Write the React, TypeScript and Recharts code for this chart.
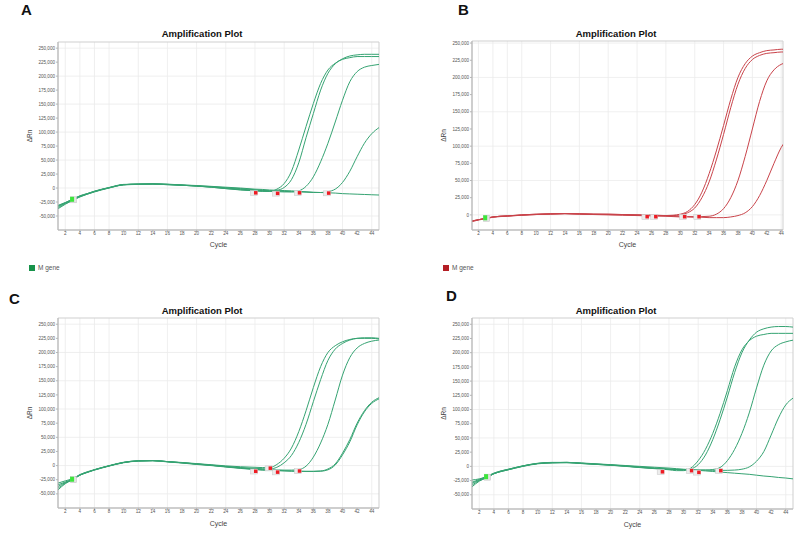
import React from "react";
import { ComposedChart, Line, Scatter, XAxis, YAxis, CartesianGrid, ReferenceArea, Label } from "recharts";

// cycles sampled (denser where the curves rise)
const cycles = [1, 2, 3, 4, 5, 6, 8, 10, 12, 14, 16, 18, 20, 22, 24, 26, 28, 29, 30, 31, 32, 33, 34, 35, 36, 37, 38, 39, 40, 41, 42, 43, 44, 45];
const cycleTicks = [2, 4, 6, 8, 10, 12, 14, 16, 18, 20, 22, 24, 26, 28, 30, 32, 34, 36, 38, 40, 42, 44];
const rnTicksFull = [-50, -25, 0, 25, 50, 75, 100, 125, 150, 175, 200, 225, 250];
const rnTicksPos = [0, 25, 50, 75, 100, 125, 150, 175, 200, 225, 250];

// ΔRn values in thousands
const curvesA = [
  [-31, -26, -20, -14, -10, -5.5, 1, 6.5, 7, 7.5, 6.5, 5, 3.5, 1.5, -1, -3, -5, -6, -6, -2, 8, 30, 68, 110, 151, 187, 211, 223, 230, 233, 235, 235, 235, 235],
  [-33, -27, -21, -15, -10.5, -6, 0.5, 6, 7, 7.5, 6.5, 5.5, 4, 2.5, 0.5, -1, -3, -4, -5, -4, 1, 15, 45, 90, 133, 175, 205, 222, 231, 236, 238, 239, 239, 239],
  [-35, -28, -22, -15.5, -11, -6.5, 0.5, 6, 7, 7, 6, 5, 3.5, 1.5, -1, -3.5, -5, -5.5, -6, -6.5, -7, -7, -5, 3, 20, 47, 80, 118, 157, 190, 208, 216, 219, 221],
  [-37, -29, -22, -16, -11, -7, 0, 5.5, 6.5, 7, 6, 5, 3.5, 2, 0, -2, -4, -4.5, -5, -5.5, -6, -6.5, -7, -7.5, -8, -8, -6.5, -2, 10, 30, 56, 80, 97, 108],
  [-32, -26, -20, -14, -10, -6, 0.5, 6, 7, 7.5, 7, 5.5, 4.5, 3, 1.5, 0, -2, -2.5, -3.5, -4, -4.5, -5, -6, -6.5, -7.5, -8, -8.5, -9, -10, -10.5, -11, -11.5, -12, -12.5],
];
const curvesB = [
  [-9, -7, -5, -3, -2, -1.5, 0, 1, 1.5, 2, 1.5, 1, 1, 0.5, 0, -0.5, -1, -0.5, 1, 5, 15, 33, 60, 93, 130, 168, 200, 220, 231, 236, 239, 240, 241, 241],
  [-9, -7, -5, -3, -2, -1.5, 0, 1, 1.5, 2, 1.5, 1, 1, 0.5, 0, -0.5, -1, -1, 0, 3, 10, 25, 48, 80, 117, 156, 190, 213, 226, 232, 235, 236, 237, 237],
  [-9.5, -7, -5, -3, -2, -1.5, -0.5, 0.5, 1.5, 2, 1.5, 1, 0.5, 0, -0.5, -1, -1.5, -2, -2, -2.5, -2.5, -2.5, -2, 1, 9, 25, 50, 85, 125, 165, 195, 211, 219, 222],
  [-10, -7.5, -5.5, -3.5, -2.5, -2, -0.5, 0.5, 1, 1.5, 1, 0.5, 0, -0.5, -1, -1.5, -2, -2.5, -3, -3, -3.5, -3.5, -4, -4, -4, -3, -1, 3, 12, 28, 50, 75, 98, 112],
];
const curvesC = [
  [-31, -27, -23, -16, -11, -7, 0, 6, 8.5, 9, 7, 5.5, 3.5, 1.5, -0.5, -2, -3, -3.5, -3.5, 2, 13, 31, 60, 97, 138, 175, 200, 212, 219, 223, 225, 225, 225, 224],
  [-34, -29, -24, -17, -12, -7.5, -0.5, 5.5, 8.5, 9, 7, 5, 3, 1, -1.5, -3.5, -5, -5.5, -6, -3, 5, 18, 41, 73, 113, 152, 186, 206, 216, 222, 225, 226, 226, 225],
  [-37, -30, -25, -17, -12, -7.5, -0.5, 5.5, 8, 8.5, 7, 5, 3, 0.5, -2, -4, -6, -6.5, -7, -7.5, -8, -8, -7, -1, 15, 40, 73, 116, 160, 191, 208, 216, 220, 222],
  [-43, -32, -25, -17, -12, -8, -1, 5, 8, 8.5, 6.5, 4.5, 2, 0, -2.5, -5, -7, -8, -8.5, -9, -9.5, -10, -10, -10, -10, -9.5, -6, 3, 22, 46, 75, 97, 112, 120],
  [-40, -31, -24, -16, -11.5, -7.5, -0.5, 5.5, 8.5, 9, 7, 5, 2.5, 0.5, -2, -4.5, -6.5, -7.5, -8, -8.5, -9, -9.5, -10, -10.5, -10.5, -10, -7.5, 1, 19, 42, 72, 95, 110, 118],
];
const curvesD = [
  [-24, -22, -18, -12, -8, -5, 1, 5, 6.5, 6.5, 5, 3.5, 2, 0.5, -2, -4, -6, -7.5, -7.5, -3, 10, 30, 58, 93, 133, 175, 205, 221, 229, 232, 234, 234, 234, 234],
  [-30, -24, -19, -13, -8.5, -5.5, 0.5, 5, 6.5, 7, 5.5, 4, 2.5, 1, -1, -3, -5, -5.5, -6, -4.5, 3, 20, 47, 82, 122, 165, 200, 222, 236, 242, 245, 246, 246, 245],
  [-33, -25, -20, -13, -9, -6, 0.5, 5, 6.5, 7, 5.5, 4, 2.5, 0.5, -1.5, -3.5, -5, -5.5, -6, -6, -6.5, -6.5, -5.5, -2, 10, 30, 58, 94, 138, 178, 203, 214, 219, 222],
  [-36, -26, -20, -13, -9, -6, 0, 4.5, 6, 6.5, 5, 3.5, 2, 0, -2, -3.5, -5, -5.5, -6, -6, -6.5, -6.5, -7, -7, -7, -6.5, -5, -1, 9, 26, 55, 85, 108, 120],
  [-28, -23, -18, -12, -8, -5, 1, 5.5, 7, 7, 6, 4.5, 3, 1.5, 0, -1.5, -3, -4, -5, -6, -7, -8, -9, -10, -11, -12, -13, -14, -15.5, -17, -18, -19.5, -20.5, -22],
];

// Ct / baseline markers
const ctA = [{ cycle: 28, value: -9 }, { cycle: 31, value: -10 }, { cycle: 34, value: -9 }, { cycle: 38, value: -9.5 }];
const ctB = [{ cycle: 25.3, value: -3 }, { cycle: 26.5, value: -3 }, { cycle: 30.5, value: -3 }, { cycle: 32.5, value: -3 }];
const ctC = [{ cycle: 28, value: -10.5 }, { cycle: 30, value: -5 }, { cycle: 31, value: -12 }, { cycle: 34, value: -10 }];
const ctD = [{ cycle: 27, value: -10 }, { cycle: 31, value: -8 }, { cycle: 32, value: -11 }, { cycle: 35, value: -8 }];
const startA = [{ cycle: 3, value: -21 }];
const startB = [{ cycle: 3, value: -5 }];
const startC = [{ cycle: 3, value: -25 }];
const startD = [{ cycle: 3, value: -19 }];

const GREEN = "#35a372";
const RED = "#c9434a";

function buildRows(curves: number[][]) {
  return cycles.map((c, i) => {
    const row: any = { cycle: c };
    curves.forEach((s, j) => (row["s" + j] = s[i]));
    return row;
  });
}

const fmtRn = (v: number) => (v === 0 ? "0" : (v * 1000).toLocaleString("en-US"));

function CtMark(props: any) {
  const { cx, cy } = props;
  return (
    <g>
      <rect x={cx - 4.5} y={cy - 2.5} width={7} height={5} fill="#ececec" stroke="#c8c8c8" strokeWidth={0.5} />
      <rect x={cx - 1} y={cy - 2} width={3.5} height={3.5} fill="#ee1c24" />
    </g>
  );
}

function StartMark(props: any) {
  const { cx, cy } = props;
  return (
    <g>
      <rect x={cx - 2} y={cy - 3} width={6} height={6} fill="#e4e4e4" stroke="#c0c0c0" strokeWidth={0.5} />
      <rect x={cx - 2.5} y={cy - 3} width={4} height={5} fill="#3ce63c" />
    </g>
  );
}

function Panel(p: any) {
  const rows = buildRows(p.curves);
  const tickStyle = { fontSize: 4.6, fill: "#555" };
  return (
    <div style={{ position: "absolute", left: p.left, top: p.top }}>
      <ComposedChart width={p.width} height={p.height} data={rows} margin={p.margin}>
        <CartesianGrid stroke="#ebebeb" strokeWidth={0.8} verticalValues={cycleTicks} horizontalValues={p.yTicks} />
        <ReferenceArea x1={p.xDomain[0]} x2={p.xDomain[1]} y1={p.yDomain[0]} y2={p.yDomain[1]} fill="none" stroke="#cfcfcf" strokeWidth={1} />
        <XAxis
          type="number"
          dataKey="cycle"
          domain={p.xDomain}
          ticks={cycleTicks}
          allowDataOverflow
          height={20}
          tick={tickStyle}
          tickSize={2}
          tickMargin={0}
          stroke="#b5b5b5"
        >
          <Label value="Cycle" position="insideBottom" offset={p.cycleOffset} style={{ fontSize: 7, fill: "#444" }} />
        </XAxis>
        <YAxis
          type="number"
          domain={p.yDomain}
          ticks={p.yTicks}
          allowDataOverflow
          width={48}
          tick={tickStyle}
          tickFormatter={fmtRn}
          tickSize={2}
          tickMargin={1}
          stroke="#b5b5b5"
        >
          <Label value="ΔRn" angle={-90} position="center" dx={-4} style={{ fontSize: 6.5, fill: "#444" }} />
        </YAxis>
        {p.curves.map((_: any, j: number) => (
          <Line
            key={j}
            type="monotone"
            dataKey={"s" + j}
            stroke={p.color}
            strokeWidth={1}
            dot={false}
            isAnimationActive={false}
          />
        ))}
        <Scatter data={p.ct} dataKey="value" shape={<CtMark />} isAnimationActive={false} />
        <Scatter data={p.start} dataKey="value" shape={<StartMark />} isAnimationActive={false} />
      </ComposedChart>
    </div>
  );
}

const titleStyle: React.CSSProperties = {
  position: "absolute",
  transform: "translate(-50%, -50%)",
  fontSize: 9.5,
  fontWeight: "bold",
  color: "#111",
  whiteSpace: "nowrap",
};
const letterStyle: React.CSSProperties = {
  position: "absolute",
  fontSize: 15,
  fontWeight: "bold",
  color: "#111",
  lineHeight: "15px",
};
const legendText: React.CSSProperties = { position: "absolute", fontSize: 6.5, color: "#555", lineHeight: "8px" };

export default function App() {
  return (
    <div
      style={{
        position: "absolute",
        left: 0,
        top: 0,
        width: 796,
        height: 544,
        background: "#fff",
        fontFamily: "'Liberation Sans', Arial, sans-serif",
        overflow: "hidden",
      }}
    >
      <Panel left={0} top={0} width={400} height={280} margin={{ top: 42, right: 21, bottom: 30, left: 10 }}
        xDomain={[1, 45]} yDomain={[-75, 261]} yTicks={rnTicksFull} curves={curvesA} color={GREEN} ct={ctA} start={startA} cycleOffset={3} />
      <Panel left={400} top={0} width={396} height={280} margin={{ top: 41, right: 13, bottom: 30, left: 24 }}
        xDomain={[1.1, 44.25]} yDomain={[-22, 253]} yTicks={rnTicksPos} curves={curvesB} color={RED} ct={ctB} start={startB} cycleOffset={3} />
      <Panel left={0} top={280} width={400} height={264} margin={{ top: 38, right: 21, bottom: 16, left: 10 }}
        xDomain={[1, 45]} yDomain={[-75, 261]} yTicks={rnTicksFull} curves={curvesC} color={GREEN} ct={ctC} start={startC} cycleOffset={2.5} />
      <Panel left={400} top={280} width={396} height={264} margin={{ top: 38, right: 3, bottom: 15, left: 24 }}
        xDomain={[1, 45]} yDomain={[-75, 261]} yTicks={rnTicksFull} curves={curvesD} color={GREEN} ct={ctD} start={startD} cycleOffset={2.5} />

      <div style={{ ...letterStyle, left: 21, top: 2 }}>A</div>
      <div style={{ ...letterStyle, left: 458, top: 2 }}>B</div>
      <div style={{ ...letterStyle, left: 9, top: 291 }}>C</div>
      <div style={{ ...letterStyle, left: 446, top: 288 }}>D</div>

      <div style={{ ...titleStyle, left: 202, top: 33 }}>Amplification Plot</div>
      <div style={{ ...titleStyle, left: 616, top: 33 }}>Amplification Plot</div>
      <div style={{ ...titleStyle, left: 202, top: 310 }}>Amplification Plot</div>
      <div style={{ ...titleStyle, left: 616, top: 310 }}>Amplification Plot</div>

      <div style={{ position: "absolute", left: 29, top: 265, width: 6, height: 6, background: "#17924a" }} />
      <div style={{ ...legendText, left: 38, top: 264 }}>M gene</div>
      <div style={{ position: "absolute", left: 443, top: 265, width: 6, height: 6, background: "#b41e25" }} />
      <div style={{ ...legendText, left: 452, top: 264 }}>M gene</div>
    </div>
  );
}
